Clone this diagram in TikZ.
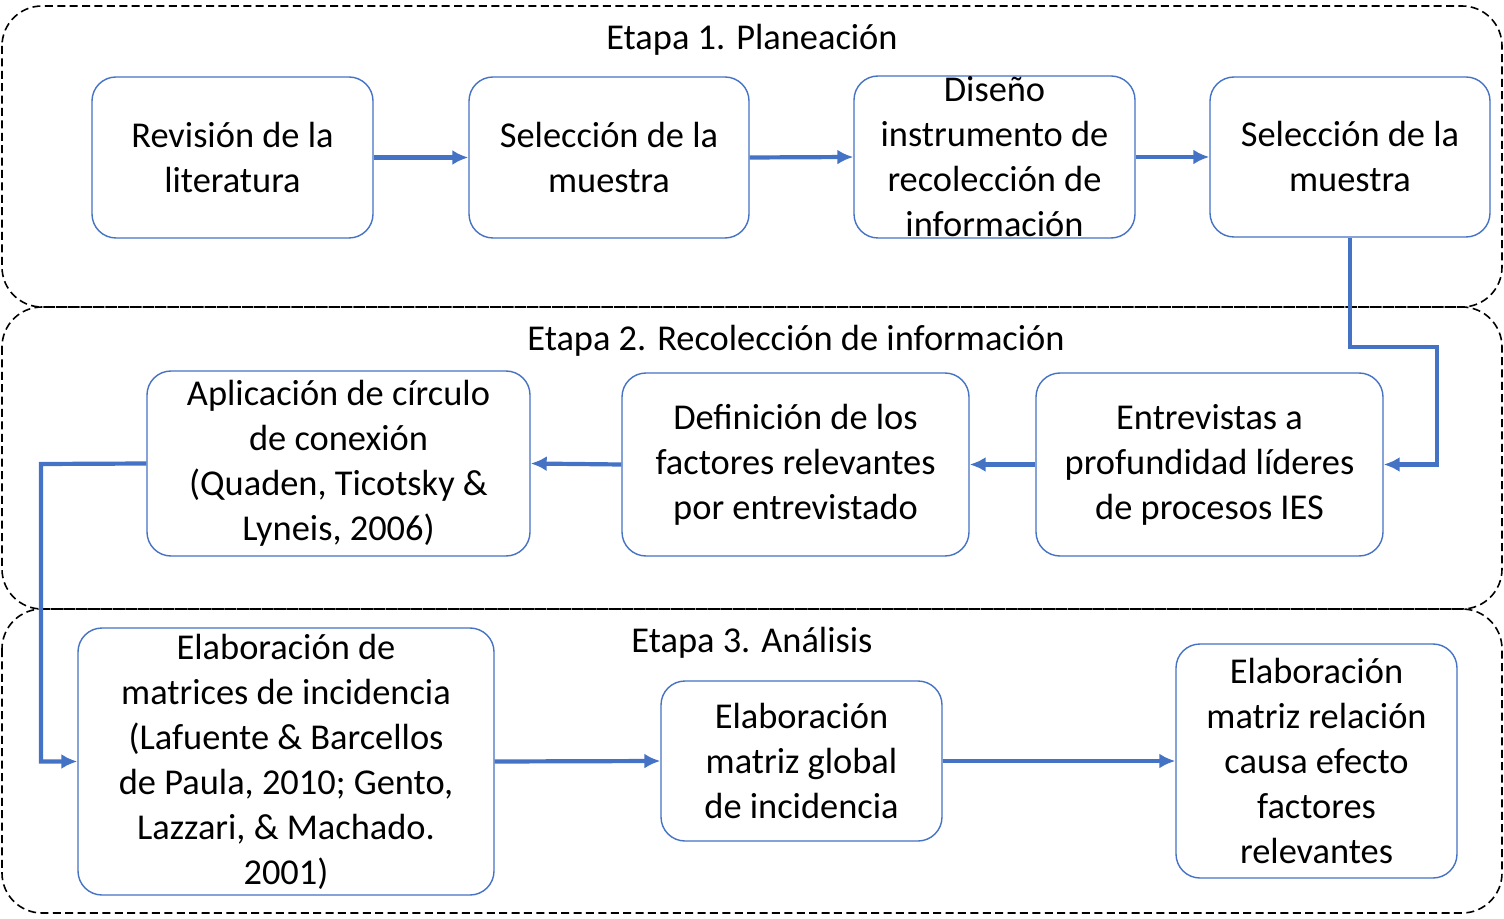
\documentclass[tikz,border=0pt]{standalone}
\usepackage{fontspec}
\setmainfont{Carlito}
\usepackage{tikz}
\usetikzlibrary{arrows.meta}

\definecolor{boxblue}{HTML}{4472C4}

\tikzset{
  stage/.style={draw=black, line width=0.8pt, dash pattern=on 4pt off 2.2pt, rounded corners=20pt},
  stagetitle/.style={font=\fontsize{18.2}{22.5}\selectfont, inner sep=0pt},
  pbox/.style={draw=boxblue, line width=0.7pt, rounded corners=12pt, align=center,
    font=\fontsize{18.2}{22.5}\selectfont, inner sep=2pt},
  arr/.style={draw=boxblue, line width=2.1pt, -{Latex[length=8pt,width=7.5pt]}}
}

\begin{document}
\begin{tikzpicture}[x=0.5pt, y=-0.5pt]
        \useasboundingbox (0,0) rectangle (1504,919);
        % etapas
        \draw[stage] (2,6) rectangle (1502,307);
        \draw[stage] (2,307) rectangle (1502,609);
        \draw[stage] (2,609) rectangle (1502,913);
        \node[stagetitle](t1)at(752,39.5){Etapa 1. Planeación};
        \node[stagetitle](t2)at(796,340.5){Etapa 2. Recolección de información};
        \node[stagetitle](t3)at(752,642.5){Etapa 3. Análisis};
        % etapa 1
        \node[pbox,minimum width=140.5pt,minimum height=80.5pt](b1)at(232.5,157.5){Revisión de la\\literatura};
        \node[pbox,minimum width=140pt,minimum height=80.5pt](b2)at(609,157.5){Selección de la\\muestra};
        \node[pbox,minimum width=140.5pt,minimum height=81pt,inner ysep=-4pt](b3)at(994.5,157){Diseño\\instrumento de\\recolección de\\información};
        \node[pbox,minimum width=140pt,minimum height=80pt](b4)at(1350,157){Selección de la\\muestra};
        % etapa 2
        \node[pbox,minimum width=191.5pt,minimum height=92.5pt](c1)at(338.5,463.5){Aplicación de círculo\\de conexión\\(Quaden, Ticotsky \&\\Lyneis, 2006)};
        \node[pbox,minimum width=173.5pt,minimum height=91.5pt](c2)at(795.5,464.5){Definición de los\\factores relevantes\\por entrevistado};
        \node[pbox,minimum width=173.5pt,minimum height=91.5pt](c3)at(1209.5,464.5){Entrevistas a\\profundidad líderes\\de procesos IES};
        % etapa 3
        \node[pbox,minimum width=208pt,minimum height=133.5pt,inner ysep=0pt](d1)at(286,761.5){Elaboración de\\matrices de incidencia\\(Lafuente \& Barcellos\\de Paula, 2010; Gento,\\Lazzari, \& Machado.\\2001)};
        \node[pbox,minimum width=140.5pt,minimum height=80pt](d2)at(801.5,761){Elaboración\\matriz global\\de incidencia};
        \node[pbox,minimum width=140.5pt,minimum height=117pt](d3)at(1316.5,761){Elaboración\\matriz relación\\causa efecto\\factores\\relevantes};
        % conectores
        \coordinate (k1) at (1437,347);
        \coordinate (k2) at (41,464);
        \draw[arr] (b1.east) -- (b2.west);
        \draw[arr] (b2.east) -- (b3.west);
        \draw[arr] (b3.east) -- (b4.west);
        \draw[arr] (b4.south) |- (k1) |- (c3.east);
        \draw[arr] (c3.west) -- (c2.east);
        \draw[arr] (c2.west) -- (c1.east);
        \draw[arr] (c1.west) -- (k2) |- (d1.west);
        \draw[arr] (d1.east) -- (d2.west);
        \draw[arr] (d2.east) -- (d3.west);
\end{tikzpicture}
\end{document}
